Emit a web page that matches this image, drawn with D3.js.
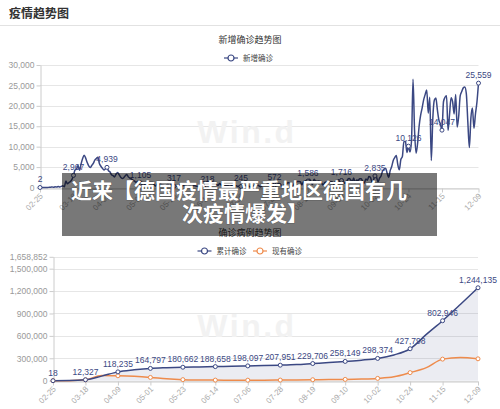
<!DOCTYPE html>
<html>
<head>
<meta charset="utf-8">
<script src="https://cdn.jsdelivr.net/npm/d3@7"></script>
<style>
  body { margin: 0; background: #fff; }
  svg { display: block; font-family: "Liberation Sans", Arial, "Noto Sans CJK SC", sans-serif; }
  .cjk { font-family: "Noto Sans CJK SC", sans-serif; }
</style>
</head>
<body>
<div id="root"></div>
<script>
// x axis labels, one every 22 days
const tickLabels = ['02-25', '03-18', '04-09', '05-01', '05-23', '06-14', '07-06',
  '07-28', '08-19', '09-10', '10-02', '10-24', '11-15', '12-09'];

// daily new confirmed cases, 2020-02-25 .. 2020-12-09
const newFeb = [2, 4, 11, 10, 26];
const newMar = [0, 53, 66, 138, 52, 167, 131, 241, 136, 281, 451, 170, 1597, 910, 1210, 1477,
  1985, 2967, 4300, 4500, 5400, 4200, 5800, 7100, 7900, 7200, 6100, 5300, 4900, 5400, 5900];
const newApr = [6700, 7100, 7400, 5900, 5200, 4700, 4300, 4600, 4939, 4100, 3800, 3100, 2900,
  2600, 3300, 3700, 3100, 2500, 2200, 2400, 2900, 3200, 2600, 2300, 2100, 1800, 1600, 1300, 1500, 1600];
const newMay = [1105, 890, 1051, 697, 685, 947, 1284, 1209, 1251, 667, 357, 933, 798, 933, 620,
  583, 342, 513, 797, 432, 745, 460, 317, 289, 342, 353, 741, 298, 571, 477, 286];
const newJun = [213, 342, 285, 242, 555, 407, 301, 214, 350, 318, 510, 555, 350, 218, 378, 345,
  580, 770, 601, 687, 537, 1010, 600, 587, 630, 477, 687, 256, 298, 466];
const newJul = [503, 446, 422, 239, 356, 245, 397, 442, 479, 378, 395, 159, 249, 359, 583, 534,
  583, 349, 202, 454, 587, 569, 815, 781, 305, 340, 633, 572, 684, 870, 955];
const newAug = [784, 240, 555, 741, 1045, 1147, 1122, 555, 436, 966, 1226, 1445, 1449, 1415, 625,
  1390, 1510, 1707, 1586, 2034, 1445, 711, 2034, 1576, 1507, 1571, 1479, 1037, 610, 1218, 1336];
const newSep = [1256, 1311, 1453, 1378, 814, 1499, 1176, 1892, 1484, 1716, 1630, 1056, 1144, 1916,
  2194, 1916, 1345, 2297, 1192, 1821, 1769, 2143, 2153, 1411, 1100, 2089, 1798, 2673, 2503, 1410];
const newOct = [1798, 2835, 2563, 1382, 2279, 2828, 4058, 4516, 4721, 3483, 2467, 4122, 5132, 6638,
  7334, 7830, 5587, 4325, 6868, 7595, 11287, 11242, 8600, 10126, 8685, 11409, 26500, 14000, 8400,
  10800, 15000];
const newNov = [17700, 19500, 21500, 22800, 23900, 18200, 22100, 6600, 17000, 21400, 21900, 19000,
  16500, 15500, 14047, 21000, 22100, 22500, 14000, 18000, 22000, 21000, 18000, 22800, 14800, 17500,
  22500, 23500, 24400, 24600];
const newDec = [23000, 16000, 9800, 17000, 19500, 14500, 18000, 21000, 25559];

// confirmed case trend, every 11 days
const trendDates = ['02-25', '03-07', '03-18', '03-29', '04-09', '04-20', '05-01', '05-12', '05-23',
  '06-03', '06-14', '06-25', '07-06', '07-17', '07-28', '08-08', '08-19', '08-30', '09-10', '09-21',
  '10-02', '10-13', '10-24', '11-04', '11-15', '11-27', '12-09'];
const totalCases = [18, 1100, 12327, 61000, 118235, 145000, 164797, 174000, 180662, 184500, 188658,
  194000, 198097, 202000, 207951, 216000, 229706, 243000, 258149, 275000, 298374, 345000, 427798,
  620000, 802946, 1020000, 1244135];
const activeCases = [16, 1000, 11500, 70000, 66000, 58000, 44000, 25000, 14000, 10000, 8000, 7500,
  7000, 7000, 8500, 10500, 13000, 16000, 17500, 22000, 31000, 52000, 108000, 175000, 289000, 311000,
  293000];

const topTicks = [0, 5000, 10000, 15000, 20000, 25000, 30000];
const bottomTicks = [0, 300000, 600000, 900000, 1200000, 1500000, 1658852];
const bannerLines = ['近来【德国疫情最严重地区德国有几', '次疫情爆发】'];

const width = 500, height = 409;
const navy = '#3b4883', orange = '#ee8b4c';
const fmt = d3.format(',');
const parse = d3.utcParse('%Y-%m-%d');
const toDate = s => parse('2020-' + s);
const tickDates = tickLabels.map(toDate);
const isTick = d => tickDates.some(t => +t === +d);

const svg = d3.select('#root').append('svg')
  .attr('width', width)
  .attr('height', height);

svg.append('text')
  .attr('class', 'cjk')
  .attr('x', 9).attr('y', 18)
  .attr('font-size', 12).attr('font-weight', 'bold').attr('fill', '#333')
  .text('疫情趋势图');
svg.append('line')
  .attr('x1', 0).attr('x2', width).attr('y1', 25.5).attr('y2', 25.5)
  .attr('stroke', '#e2e2e2');

function drawFrame(o) {
  const [x0, x1] = o.x.range();
  const g = svg.append('g');

  g.selectAll('.grid').data(o.yTicks).enter().append('line')
    .attr('x1', x0).attr('x2', x1)
    .attr('y1', d => Math.round(o.y(d)) + 0.5)
    .attr('y2', d => Math.round(o.y(d)) + 0.5)
    .attr('stroke', '#e6e6e6');

  // watermark
  g.append('text')
    .attr('x', 247).attr('y', o.markY)
    .attr('text-anchor', 'middle')
    .attr('font-size', 32).attr('font-weight', 'bold').attr('letter-spacing', 2.5)
    .attr('fill', '#f2f2f2')
    .text('Win.d');

  const ya = g.append('g')
    .attr('transform', `translate(${x0 + 0.5},0)`)
    .call(d3.axisLeft(o.y).tickValues(o.yTicks).tickSize(4).tickSizeOuter(0).tickPadding(2).tickFormat(fmt));
  ya.attr('font-family', null).attr('font-size', 8.5);
  ya.select('.domain').attr('stroke', '#ccc');
  ya.selectAll('.tick line').attr('stroke', '#ccc');
  ya.selectAll('.tick text').attr('fill', '#999');

  const xa = g.append('g')
    .attr('transform', `translate(0,${Math.round(o.y(0)) + 0.5})`)
    .call(d3.axisBottom(o.x).tickValues(tickDates).tickSize(4).tickSizeOuter(0).tickFormat(d3.utcFormat('%m-%d')));
  xa.attr('font-family', null).attr('font-size', 8);
  xa.select('.domain').attr('stroke', '#ccc');
  xa.selectAll('.tick line').attr('stroke', '#ccc');
  xa.selectAll('.tick text')
    .attr('fill', '#aaa')
    .attr('text-anchor', 'end')
    .attr('x', 0).attr('y', 0).attr('dy', '0.35em')
    .attr('transform', 'translate(1,6) rotate(-45)');

  svg.append('text')
    .attr('class', 'cjk')
    .attr('x', 250).attr('y', o.titleY)
    .attr('text-anchor', 'middle')
    .attr('font-size', 9).attr('fill', '#333')
    .text(o.title);

  const lg = svg.selectAll(null).data(o.legend).enter().append('g')
    .attr('transform', d => `translate(${d.x},${o.legendY})`);
  lg.append('line').attr('x1', -7).attr('x2', 7).attr('stroke', d => d.color).attr('stroke-width', 1.2);
  lg.append('circle').attr('r', 3).attr('fill', '#fff').attr('stroke', d => d.color).attr('stroke-width', 1.2);
  lg.append('text')
    .attr('class', 'cjk')
    .attr('x', 12).attr('dy', '0.35em')
    .attr('font-size', 7.5).attr('fill', '#444')
    .text(d => d.name);
}

function drawMarkers(data, x, y, color) {
  svg.append('g').selectAll('circle')
    .data(data.filter(d => isTick(d.date)))
    .enter().append('circle')
    .attr('cx', d => x(d.date)).attr('cy', d => y(d.value))
    .attr('r', 2).attr('fill', '#fff')
    .attr('stroke', color).attr('stroke-width', 1);
}

function drawLabels(data, x, y, color) {
  svg.append('g').selectAll('text')
    .data(data.filter(d => isTick(d.date)))
    .enter().append('text')
    .attr('x', d => x(d.date)).attr('y', d => y(d.value) - 5)
    .attr('text-anchor', 'middle')
    .attr('font-size', 8.5).attr('fill', color)
    .text(d => fmt(d.value));
}

// ---- top chart: daily new cases
const newCases = [].concat(newFeb, newMar, newApr, newMay, newJun, newJul, newAug, newSep, newOct, newNov, newDec);
const startDay = tickDates[0];
const topData = newCases.map((v, i) => ({date: d3.utcDay.offset(startDay, i), value: v}));

const xTop = d3.scaleUtc().domain([tickDates[0], tickDates[tickDates.length - 1]]).range([40, 478.5]);
const yTop = d3.scaleLinear().domain([0, 30000]).range([187.5, 65]);

drawFrame({
  x: xTop, y: yTop, yTicks: topTicks, markY: 143,
  title: '新增确诊趋势图', titleY: 43,
  legend: [{name: '新增确诊', color: navy, x: 231}], legendY: 58
});

svg.append('path')
  .datum(topData)
  .attr('fill', 'none')
  .attr('stroke', navy)
  .attr('stroke-width', 1.5)
  .attr('stroke-linejoin', 'round')
  .attr('d', d3.line().x(d => xTop(d.date)).y(d => yTop(d.value)).curve(d3.curveMonotoneX));
drawMarkers(topData, xTop, yTop, navy);
drawLabels(topData, xTop, yTop, navy);

// ---- bottom chart: total / active confirmed
const trendDays = trendDates.map(toDate);
const totalData = totalCases.map((v, i) => ({date: trendDays[i], value: v}));
const activeData = activeCases.map((v, i) => ({date: trendDays[i], value: v}));

const xBot = d3.scaleUtc().domain([tickDates[0], tickDates[tickDates.length - 1]]).range([53, 478]);
const yBot = d3.scaleLinear().domain([0, 1658852]).range([380.7, 256.8]);

drawFrame({
  x: xBot, y: yBot, yTicks: bottomTicks, markY: 337,
  title: '确诊病例趋势图', titleY: 236,
  legend: [{name: '累计确诊', color: navy, x: 204.5}, {name: '现有确诊', color: orange, x: 260}], legendY: 251
});

svg.append('path')
  .datum(totalData)
  .attr('fill', 'rgba(59,72,131,0.1)')
  .attr('d', d3.area().x(d => xBot(d.date)).y0(yBot(0)).y1(d => yBot(d.value)).curve(d3.curveMonotoneX));

const botLine = d3.line().x(d => xBot(d.date)).y(d => yBot(d.value)).curve(d3.curveMonotoneX);
svg.append('path').datum(activeData)
  .attr('fill', 'none').attr('stroke', orange).attr('stroke-width', 1.5).attr('d', botLine);
svg.append('path').datum(totalData)
  .attr('fill', 'none').attr('stroke', navy).attr('stroke-width', 1.5).attr('d', botLine);
drawMarkers(activeData, xBot, yBot, orange);
drawMarkers(totalData, xBot, yBot, navy);
drawLabels(totalData, xBot, yBot, navy);

// ---- overlay banner
svg.append('rect')
  .attr('x', 62).attr('y', 173).attr('width', 375).attr('height', 63)
  .attr('fill', 'rgba(0,0,0,0.53)');
svg.selectAll('.banner').data(bannerLines).enter().append('text')
  .attr('class', 'cjk')
  .attr('x', (d, i) => i === 0 ? 71 : 182)
  .attr('y', (d, i) => 197.5 + i * 23)
  .attr('font-size', 21).attr('font-weight', 'bold')
  .attr('fill', '#fff')
  .attr('stroke', 'rgba(0,0,0,0.25)').attr('stroke-width', 1).attr('paint-order', 'stroke')
  .text(d => d);
</script>
</body>
</html>
